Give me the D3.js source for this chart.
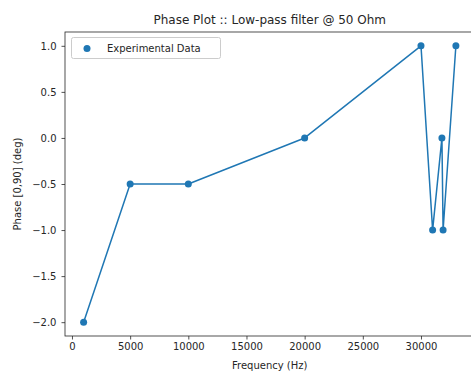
<!DOCTYPE html>
<html>
<head>
<meta charset="utf-8">
<script src="https://cdn.jsdelivr.net/npm/d3@7"></script>
<style>
  html, body { margin: 0; padding: 0; background: #fff; overflow: hidden; }
  svg { display: block; font-family: "DejaVu Sans", sans-serif; }
</style>
</head>
<body>
<svg id="chart" width="471" height="372"></svg>
<script>
// Measured frequency sweep and the resulting phase
const frequencies = [1000, 5000, 10000, 20000, 30000, 31000, 31800, 31900, 33000];
const phases = [-2, -0.5, -0.5, 0, 1, -1, 0, -1, 1];
const xTicks = [0, 5000, 10000, 15000, 20000, 25000, 30000];
const yTicks = [-2.0, -1.5, -1.0, -0.5, 0.0, 0.5, 1.0];

(function () {
  const color = "#1f77b4";
  const svg = d3.select("#chart");

  const plotLeft = 65, plotTop = 32, plotBottom = 336;
  const x = d3.scaleLinear().domain([-600, 34600]).range([plotLeft, plotLeft + 409.5]);
  const y = d3.scaleLinear().domain([-2.15, 1.15]).range([plotBottom, plotTop]);
  const fmtY = v => d3.format(".1f")(v).replace("-", "\u2212");

  const points = frequencies.map((f, i) => ({ f, p: phases[i] }));

  // Line through the measurements in order
  svg.append("path")
    .datum(points)
    .attr("fill", "none")
    .attr("stroke", color)
    .attr("stroke-width", 1.5)
    .attr("stroke-linejoin", "round")
    .attr("d", d3.line().x(d => x(d.f)).y(d => y(d.p)));

  svg.selectAll("circle.pt")
    .data(points)
    .join("circle")
    .attr("class", "pt")
    .attr("cx", d => x(d.f))
    .attr("cy", d => y(d.p))
    .attr("r", 3.5)
    .attr("fill", color);

  // Axes
  const xAxis = svg.append("g")
    .attr("transform", `translate(0,${plotBottom})`)
    .call(d3.axisBottom(x).tickValues(xTicks).tickFormat(d3.format("d")).tickSize(3.5).tickPadding(3.5));
  const yAxis = svg.append("g")
    .attr("transform", `translate(${plotLeft},0)`)
    .call(d3.axisLeft(y).tickValues(yTicks).tickFormat(fmtY).tickSize(3.5).tickPadding(5));
  [xAxis, yAxis].forEach(g => {
    g.select(".domain").remove();
    g.selectAll("text").attr("font-size", 10).attr("fill", "#262626").attr("font-family", "DejaVu Sans");
    g.selectAll("line").attr("stroke", "#262626").attr("stroke-width", 0.8);
  });

  // Frame
  svg.append("rect")
    .attr("x", plotLeft).attr("y", plotTop)
    .attr("width", x.range()[1] - plotLeft).attr("height", plotBottom - plotTop)
    .attr("fill", "none").attr("stroke", "#262626").attr("stroke-width", 0.8);

  // Title and labels
  const cx = (plotLeft + x.range()[1]) / 2;
  svg.append("text")
    .attr("x", cx).attr("y", 24)
    .attr("text-anchor", "middle").attr("font-size", 12).attr("fill", "#262626")
    .text("Phase Plot :: Low-pass filter @ 50 Ohm");
  svg.append("text")
    .attr("x", cx).attr("y", 369)
    .attr("text-anchor", "middle").attr("font-size", 10).attr("fill", "#262626")
    .text("Frequency (Hz)");
  svg.append("text")
    .attr("transform", `translate(21,${(plotTop + plotBottom) / 2}) rotate(-90)`)
    .attr("text-anchor", "middle").attr("font-size", 10).attr("fill", "#262626")
    .text("Phase [0,90] (deg)");

  // Legend
  const lg = svg.append("g");
  lg.append("rect")
    .attr("x", 71.5).attr("y", 37.5).attr("width", 149).attr("height", 21).attr("rx", 2)
    .attr("fill", "#fff").attr("fill-opacity", 0.8)
    .attr("stroke", "#cccccc").attr("stroke-width", 1);
  lg.append("circle").attr("cx", 87).attr("cy", 48.5).attr("r", 3.5).attr("fill", color);
  lg.append("text")
    .attr("x", 107).attr("y", 52)
    .attr("font-size", 10).attr("fill", "#262626")
    .text("Experimental Data");
})();
</script>
</body>
</html>
